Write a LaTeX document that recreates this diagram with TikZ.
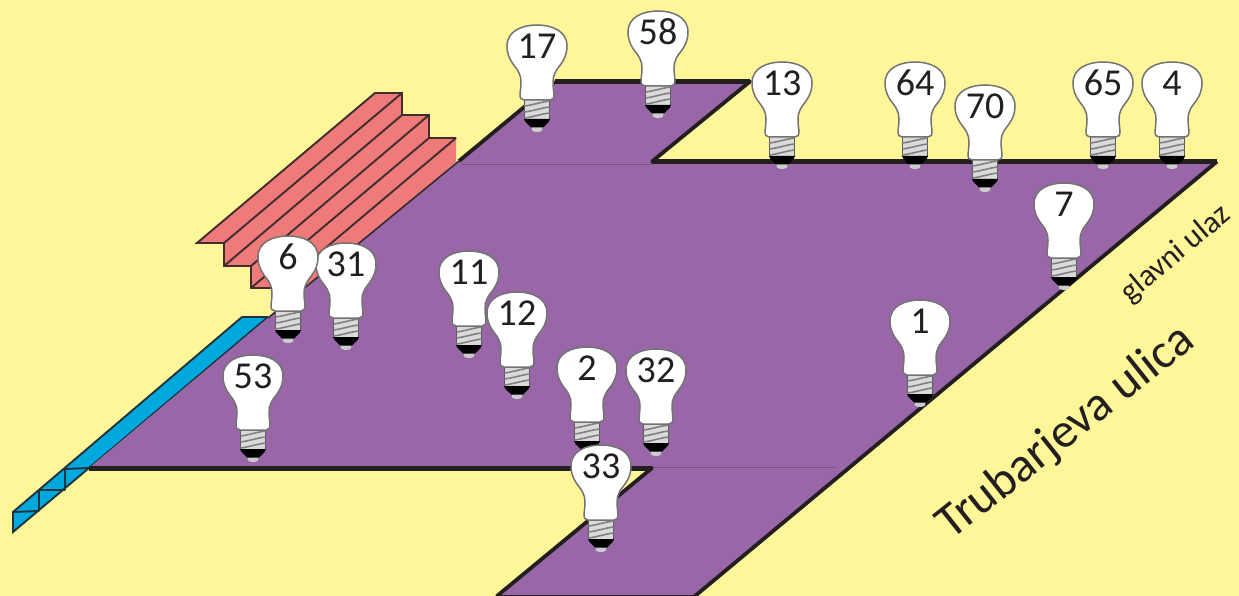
\documentclass[tikz,border=0pt]{standalone}
\usepackage{fontspec}
\setmainfont{Carlito}
\definecolor{bg}{HTML}{FFF599}
\definecolor{floorc}{HTML}{9966A8}
\definecolor{pinkc}{HTML}{EE7B7A}
\definecolor{bluec}{HTML}{00A8DE}
\definecolor{ink}{HTML}{231F20}
\definecolor{screwc}{HTML}{DADADA}
\tikzset{
  wall/.style={draw=ink,line width=5pt,line cap=butt},
  wallthin/.style={draw=ink,line width=3.8pt},
  edgethin/.style={draw=ink!85!floorc,line width=1.6pt},
  stair/.style={draw=ink!85!pinkc,line width=1.9pt,line join=miter},
  ramp/.style={draw=ink!85!bluec,line width=1.9pt},
  seam/.style={draw=ink!30!floorc,line width=.6pt},
  bulbnum/.style={font=\fontsize{38}{38}\selectfont,text=ink,inner sep=0pt},
  bulbglass/.style={fill=white,draw=black!55,line width=1.5pt},
  streetlabel/.style={text=ink,inner sep=0pt},
  pics/lamp/.style n args={2}{code={
    % screw
    \fill[screwc] (-12.5,73) -- (12.5,73) -- (12.5,95) -- (-12.5,95) -- cycle;
    \draw[black!65,line width=1.2pt] (-12.5,73) -- (-12.5,95) (12.5,73) -- (12.5,95);
    \foreach \yy in {79,85,91}{\draw[black!50,line width=1.6pt] (-12.5,\yy+2) .. controls (-4,\yy+1) and (4,\yy-2) .. (12.5,\yy-3);}
    % tip
    \fill[black!20!white] (-6,99) -- (6,99) -- (5,105.5) .. controls (3,107.5) and (-3,107.5) .. (-5,105.5) -- cycle;
    \fill[black] (-13,94) -- (13,94) -- (11.5,97) -- (6,102.5) -- (-6,102.5) -- (-11.5,97) -- cycle;
    % glass
    \path[bulbglass] (-13,75) .. controls (-16,75) and (-17,73) .. (-17,69)
      .. controls (-16,61) and (-15,53) .. (-18,48)
      .. controls (-20,42) and (-30,36) .. (-30,21)
      .. controls (-30,6) and (-15,0) .. (0,0)
      .. controls (15,0) and (30,6) .. (30,21)
      .. controls (30,36) and (20,42) .. (18,48)
      .. controls (15,53) and (16,61) .. (17,69)
      .. controls (17,73) and (16,75) .. (13,75) -- cycle;
    \node[bulbnum] (num#1) at (0,21) {#2};
  }}
}
\begin{document}
\begin{tikzpicture}[x=1pt,y=-1pt]
\useasboundingbox (0,0) rectangle (1239,596);
\fill[bg] (0,0) rectangle (1239,596);
% stairs
\coordinate (sA) at (197,243);
\coordinate (sB) at (375,93);
\coordinate (sC) at (402,93);
\coordinate (sD) at (402,115);
\coordinate (sE) at (429,115);
\coordinate (sF) at (429,138);
\coordinate (sG) at (456,138);
\coordinate (sH) at (456,162);
\coordinate (sI) at (290,304);
\coordinate (sJ) at (251,288);
\coordinate (sK) at (251,266);
\coordinate (sL) at (224,266);
\coordinate (sM) at (224,243);
\coordinate (sN) at (278,288);
\fill[pinkc] (sA)--(sB)--(sC)--(sD)--(sE)--(sF)--(sG)--(sH)--(sI)--(sN)--(sJ)--(sK)--(sL)--(sM)--cycle;
\draw[stair] (sG)--(sF)--(sE)--(sD)--(sC)--(sB)--(sA)--(sM)--(sL)--(sK)--(sJ)--(sN);
\draw[stair] (sM)--(sC) (sL)--(sD) (sK)--(sE) (sJ)--(sF) (sN)--(sG);
% ramp
\coordinate (rA) at (242,317);
\coordinate (rB) at (268,317);
\coordinate (rC) at (89,468);
\coordinate (rD) at (13,532);
\coordinate (rE) at (13,512);
\coordinate (rF) at (65,469);
\coordinate (rG) at (65,490);
\coordinate (rH) at (39,490);
\coordinate (rI) at (39,511);
\fill[bluec] (rA)--(rB)--(rC)--(rD)--(rE)--cycle;
\draw[ramp] (rA)--(rB) (rA)--(rE)--(rD)--(rC)--(rB);
\draw[ramp] (rF)--(rC) (rF)--(rG) (rH)--(rG) (rH)--(rI) (rE)--(rI);
% floor
\coordinate (f1) at (89,468);
\coordinate (f2) at (652,468);
\coordinate (f3) at (497,596);
\coordinate (f4) at (695,596);
\coordinate (f5) at (1217,161.5);
\coordinate (f6) at (652,161.5);
\coordinate (f7) at (750,81.5);
\coordinate (f8) at (555,81.5);
\coordinate (f9) at (268,318);
\coordinate (fs) at (459,161);
\coordinate (se1) at (835,467);
\coordinate (se2) at (652,467);
\coordinate (se3) at (652,164);
\coordinate (se4) at (462,164);
\fill[floorc] (f1)--(f2)--(f3)--(f4)--(f5)--(f6)--(f7)--(f8)--(f9)--cycle;
\draw[seam] (se2)--(se1);
\draw[seam] (se3)--(se4);
\draw[wall] (f1)--(f2);
\draw[wall] (f5)--(f6);
\draw[wall] (f7)--(f8);
\draw[wallthin,line cap=round] (f2)--(f3);
\draw[wallthin,line cap=round] (f6)--(f7);
\draw[wallthin] (f4)--(f5);
\draw[wallthin] (f8)--(fs);
\draw[edgethin] (fs)--(f9);
\draw[draw=ink,line width=1.2pt] (f3)--(f4);
% lamps
\foreach \n/\x/\y in {17/537/25,58/658/11,13/782/62,64/915/62,65/1103/62,4/1172/62,70/985/85,7/1064/183,1/920/300,31/346/243,6/288/236,11/469/251,12/517/292,53/253/355,32/656/349,2/587/347,33/601/445}{
  \pic at (\x,\y) {lamp={\n}{\n}};
}
% labels
\node[streetlabel,font=\fontsize{49}{49}\selectfont,rotate=38.5] (street) at (1066,433) {Trubarjeva ulica};
\node[streetlabel,font=\fontsize{31.5}{32}\selectfont,rotate=40] (entry) at (1176,254) {glavni ulaz};
\end{tikzpicture}
\end{document}
